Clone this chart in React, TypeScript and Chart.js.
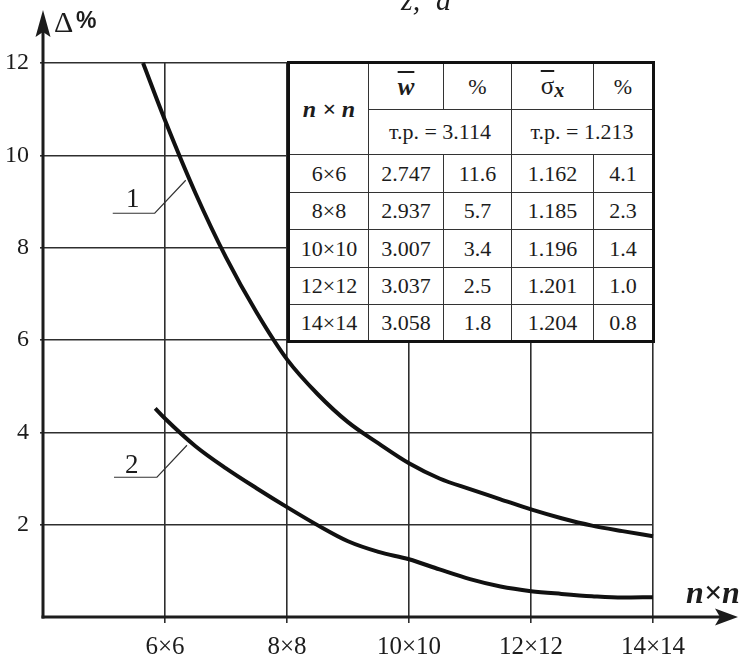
import React, { useEffect, useRef } from 'react';
import { Chart, registerables } from 'chart.js';

Chart.register(...registerables);

// ---- data ----
const curve1N = [5.64, 6, 6.5, 7, 7.5, 8, 8.5, 9, 9.5, 10, 10.5, 11, 11.5, 12, 12.5, 13, 13.5, 14];
const curve1Delta = [12, 10.76, 9.18, 7.79, 6.6, 5.58, 4.83, 4.22, 3.76, 3.33, 3.0, 2.77, 2.55, 2.33, 2.14, 1.98, 1.86, 1.75];
const curve2N = [5.84, 6, 6.5, 7, 7.5, 8, 8.5, 9, 9.5, 10, 10.5, 11, 11.5, 12, 12.5, 13, 13.5, 14];
const curve2Delta = [4.52, 4.3, 3.7, 3.22, 2.79, 2.38, 1.99, 1.64, 1.41, 1.25, 1.03, 0.82, 0.66, 0.56, 0.5, 0.45, 0.42, 0.43];

const xTickValues = [6, 8, 10, 12, 14];
const xTickLabels = ['6×6', '8×8', '10×10', '12×12', '14×14'];
const yTickValues = [2, 4, 6, 8, 10, 12];

const tableSizes = ['6×6', '8×8', '10×10', '12×12', '14×14'];
const wValues = ['2.747', '2.937', '3.007', '3.037', '3.058'];
const wPercent = ['11.6', '5.7', '3.4', '2.5', '1.8'];
const sigmaValues = ['1.162', '1.185', '1.196', '1.201', '1.204'];
const sigmaPercent = ['4.1', '2.3', '1.4', '1.0', '0.8'];
const wExact = '3.114';
const sigmaExact = '1.213';

// leader anchors (data coords on/near the curves)
const leader1Anchor = { x: 6.34, y: 9.46 };
const leader2Anchor = { x: 6.36, y: 3.72 };

const SERIF = '"Liberation Serif", "Times New Roman", serif';
const INK = '#1c1c1c';

const axesPlugin = {
  id: 'axesArrows',
  afterDatasetsDraw(chart: any) {
    const { ctx, chartArea, scales } = chart;
    const left = chartArea.left;
    const bottom = chartArea.bottom;
    ctx.save();
    ctx.strokeStyle = INK;
    ctx.fillStyle = INK;
    ctx.lineWidth = 3;
    // y axis
    ctx.beginPath();
    ctx.moveTo(left, bottom + 1.5);
    ctx.lineTo(left, 30);
    ctx.stroke();
    ctx.beginPath();
    ctx.moveTo(left, 10);
    ctx.lineTo(left + 7.5, 37);
    ctx.lineTo(left, 32);
    ctx.lineTo(left - 7.5, 37);
    ctx.closePath();
    ctx.fill();
    // x axis
    ctx.beginPath();
    ctx.moveTo(left - 1.5, bottom);
    ctx.lineTo(722, bottom);
    ctx.stroke();
    ctx.beginPath();
    ctx.moveTo(738, bottom);
    ctx.lineTo(715, bottom - 8.5);
    ctx.lineTo(720, bottom);
    ctx.lineTo(715, bottom + 8.5);
    ctx.closePath();
    ctx.fill();
    // leaders
    ctx.lineWidth = 1.2;
    ctx.strokeStyle = '#333';
    const drawLeader = (a: { x: number; y: number }, dx: number, dy: number, len: number) => {
      const ex = scales.x.getPixelForValue(a.x);
      const ey = scales.y.getPixelForValue(a.y);
      ctx.beginPath();
      ctx.moveTo(ex, ey);
      ctx.lineTo(ex + dx, ey + dy);
      ctx.lineTo(ex + dx - len, ey + dy);
      ctx.stroke();
    };
    drawLeader(leader1Anchor, -31, 33, 42);
    drawLeader(leader2Anchor, -30, 32, 43);
    ctx.restore();
  },
};

function ChartCanvas() {
  const ref = useRef<HTMLCanvasElement>(null);
  useEffect(() => {
    if (!ref.current) return;
    const chart = new Chart(ref.current, {
      type: 'line',
      data: {
        datasets: [
          {
            label: '1',
            data: curve1N.map((n, i) => ({ x: n, y: curve1Delta[i] })),
            borderColor: '#111',
            borderWidth: 4,
            pointRadius: 0,
            cubicInterpolationMode: 'monotone',
            fill: false,
            clip: false as any,
          },
          {
            label: '2',
            data: curve2N.map((n, i) => ({ x: n, y: curve2Delta[i] })),
            borderColor: '#111',
            borderWidth: 4,
            pointRadius: 0,
            cubicInterpolationMode: 'monotone',
            fill: false,
            clip: false as any,
          },
        ],
      },
      options: {
        animation: false,
        responsive: false,
        devicePixelRatio: 1,
        layout: { padding: { top: 63, right: 88, left: 0, bottom: 0 } },
        plugins: { legend: { display: false }, tooltip: { enabled: false } },
        scales: {
          x: {
            type: 'linear',
            min: 4,
            max: 14,
            afterBuildTicks: (s: any) => {
              s.ticks = xTickValues.map((v) => ({ value: v }));
            },
            afterFit: (s: any) => {
              s.height = 42;
            },
            grid: { color: '#2e2e2e', lineWidth: 1.6, tickLength: 6 },
            border: { display: false },
            ticks: {
              callback: (v: any) => {
                const i = xTickValues.indexOf(Number(v));
                return i >= 0 ? xTickLabels[i] : '';
              },
              font: { family: SERIF, size: 25 },
              color: INK,
              padding: 9,
              maxRotation: 0,
              autoSkip: false,
            },
          },
          y: {
            type: 'linear',
            min: 0,
            max: 12,
            afterBuildTicks: (s: any) => {
              s.ticks = yTickValues.map((v) => ({ value: v }));
            },
            afterFit: (s: any) => {
              s.width = 43;
            },
            grid: { color: '#2e2e2e', lineWidth: 1.6, tickLength: 3 },
            border: { display: false },
            ticks: {
              font: { family: SERIF, size: 24 },
              color: INK,
              padding: 11,
              autoSkip: false,
            },
          },
        },
      },
      plugins: [axesPlugin],
    } as any);
    return () => chart.destroy();
  }, []);
  return <canvas ref={ref} width={741} height={659} style={{ display: 'block', width: 741, height: 659 }} />;
}

const cell: React.CSSProperties = {
  border: '1.5px solid #333',
  textAlign: 'center',
  verticalAlign: 'middle',
  padding: 0,
  fontFamily: SERIF,
  fontSize: 22,
  color: INK,
  lineHeight: 1,
};

function ResultsTable() {
  const colWidths = [80, 75, 68, 82, 60];
  const dataRowH = [38, 37, 38, 37, 37];
  return (
    <table
      style={{
        position: 'absolute',
        left: 287,
        top: 61,
        width: 367,
        borderCollapse: 'collapse',
        tableLayout: 'fixed',
        background: '#fff',
        border: '3.5px solid #111',
      }}
    >
      <colgroup>
        {colWidths.map((w, i) => (
          <col key={i} style={{ width: w }} />
        ))}
      </colgroup>
      <tbody>
        <tr style={{ height: 47 }}>
          <td rowSpan={2} style={{ ...cell, fontSize: 24, fontWeight: 'bold', fontStyle: 'italic' }}>
            n × n
          </td>
          <td style={{ ...cell, fontSize: 25, fontWeight: 'bold', fontStyle: 'italic' }}>
            <span style={{ textDecoration: 'overline' }}>w</span>
          </td>
          <td style={cell}>%</td>
          <td style={{ ...cell, fontSize: 25 }}>
            <span style={{ textDecoration: 'overline' }}>σ</span>
            <span style={{ fontStyle: 'italic', fontWeight: 'bold', fontSize: 20, verticalAlign: '-3px' }}>x</span>
          </td>
          <td style={cell}>%</td>
        </tr>
        <tr style={{ height: 45 }}>
          <td colSpan={2} style={cell}>
            т.р. = {wExact}
          </td>
          <td colSpan={2} style={cell}>
            т.р. = {sigmaExact}
          </td>
        </tr>
        {tableSizes.map((s, i) => (
          <tr key={s} style={{ height: dataRowH[i] }}>
            <td style={cell}>{s}</td>
            <td style={cell}>{wValues[i]}</td>
            <td style={cell}>{wPercent[i]}</td>
            <td style={cell}>{sigmaValues[i]}</td>
            <td style={cell}>{sigmaPercent[i]}</td>
          </tr>
        ))}
      </tbody>
    </table>
  );
}

const abs = (left: number, top: number, extra: React.CSSProperties = {}): React.CSSProperties => ({
  position: 'absolute',
  left,
  top,
  lineHeight: 1,
  whiteSpace: 'nowrap',
  fontFamily: SERIF,
  color: INK,
  ...extra,
});

export default function App() {
  return (
    <div
      style={{
        position: 'fixed',
        left: 0,
        top: 0,
        width: 741,
        height: 659,
        background: '#fff',
        overflow: 'hidden',
      }}
    >
      <ChartCanvas />
      <ResultsTable />
      {/* clipped heading fragment at the top */}
      <div style={abs(401, -15, { fontSize: 30, fontStyle: 'italic' })}>z,</div>
      <div style={abs(436, -15, { fontSize: 30, fontStyle: 'italic' })}>a</div>
      {/* y axis title */}
      <div style={abs(54, 7, { fontSize: 30 })}>Δ</div>
      <div style={abs(76, 9, { fontSize: 23, fontWeight: 'bold', fontFamily: '"Liberation Sans", Arial, sans-serif' })}>%</div>
      {/* x axis title */}
      <div style={abs(686, 576, { fontSize: 32, fontStyle: 'italic', fontWeight: 'bold' })}>n×n</div>
      {/* curve labels */}
      <div style={abs(126, 185, { fontSize: 27 })}>1</div>
      <div style={abs(125, 451, { fontSize: 27 })}>2</div>
    </div>
  );
}
